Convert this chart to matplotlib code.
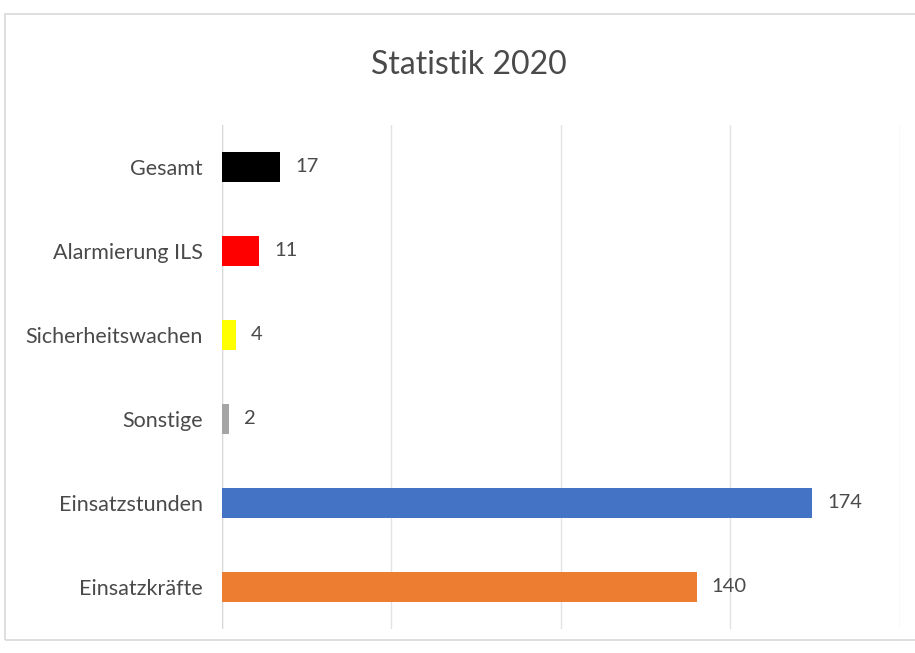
import matplotlib.pyplot as plt
from matplotlib.patches import Rectangle

# data
categories = ['Gesamt', 'Alarmierung ILS', 'Sicherheitswachen', 'Sonstige',
              'Einsatzstunden', 'Einsatzkräfte']
values = [17, 11, 4, 2, 174, 140]
colors = ['#000000', '#ff0000', '#ffff00', '#a5a5a5', '#4472c4', '#ed7d31']
grid_ticks = [0, 50, 100, 150, 200]

plt.rcParams['font.family'] = ['Lato', 'DejaVu Sans']
text_color = '#4a4a4a'

fig = plt.figure(figsize=(9.15, 6.53), dpi=100)
ax = fig.add_axes([0.2426, 0.0368, 0.7410, 0.7718])

ypos = list(range(len(categories)))
ax.barh(ypos, values, height=0.36, color=colors, zorder=3)

for y, v in zip(ypos, values):
    ax.text(v + 4.5, y, str(v), va='center', ha='left', fontsize=14.5,
            color=text_color)

ax.set_xlim(0, 200)
ax.set_ylim(len(categories) - 0.5, -0.5)
ax.set_xticks(grid_ticks)
ax.set_xticklabels([])
ax.set_yticks(ypos)
ax.set_yticklabels(categories, fontsize=15.5, color=text_color)
ax.tick_params(length=0, pad=14)
ax.grid(axis='x', color='#e3e3e3', linewidth=1, zorder=0)
for side in ['top', 'right', 'bottom', 'left']:
    ax.spines[side].set_visible(False)
ax.axvline(0, color='#d9d9d9', linewidth=1, zorder=2)

fig.text(0.512, 0.9, 'Statistik 2020', ha='center', va='center',
         fontsize=23, color=text_color)

# faint chart border
fig.patches.append(Rectangle((0.006, 0.02), 1.0, 0.958, transform=fig.transFigure,
                             fill=False, edgecolor='#d9d9d9', linewidth=1.2))

fig.savefig('out.png', dpi=100)
